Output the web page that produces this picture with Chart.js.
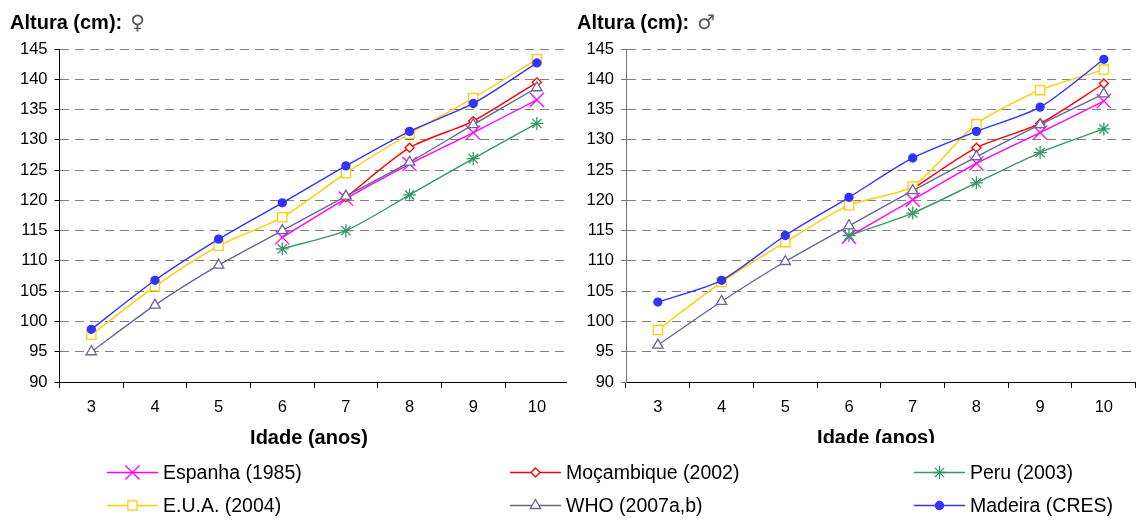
<!DOCTYPE html>
<html>
<head>
<meta charset="utf-8">
<script src="https://cdn.jsdelivr.net/npm/chart.js@4/dist/chart.umd.min.js"></script>
<style>
  body { margin: 0; background: #fff; font-family: "Liberation Sans", Arial, sans-serif; }
  #wrap { position: relative; width: 1141px; height: 520px; overflow: hidden; background: #fff; }
  canvas.chart { position: absolute; top: 0; }
  .ttl { position: absolute; top: 10px; font-size: 20px; font-weight: bold; color: #000; white-space: nowrap; }
  .ttl span { font-weight: normal; color: #555; margin-left: 8px; font-family: "DejaVu Sans", sans-serif; }
  .xt { position: absolute; top: 425px; width: 200px; margin-left: -100px; text-align: center; font-size: 20px; line-height: 24px; font-weight: bold; color: #000; }
  #legend { position: absolute; left: 0; top: 443px; width: 1141px; height: 77px; }
  #legendBg { position: absolute; left: 570px; top: 443px; width: 571px; height: 77px; background: #fff; }
  .leg { position: absolute; height: 24px; display: flex; align-items: center; font-size: 19.5px; color: #000; white-space: nowrap; }
  .leg canvas { margin-right: 4px; }
</style>
</head>
<body>
<div id="wrap">
  <canvas id="fem" class="chart" width="580" height="450" style="left:0;width:580px;height:450px"></canvas>
  <div class="xt" style="left:309px">Idade (anos)</div>
  <canvas id="masc" class="chart" width="580" height="450" style="left:567px;width:580px;height:450px"></canvas>
  <div class="xt" style="left:876px">Idade (anos)</div>
  <div class="ttl" style="left:10px">Altura (cm):<span>♀</span></div>
  <div class="ttl" style="left:577px">Altura (cm):<span>♂</span></div>
  <div id="legendBg"></div>
  <div id="legend"></div>
</div>
<script>
// idades (anos)
const idades = ['3', '4', '5', '6', '7', '8', '9', '10'];

// altura média (cm) – raparigas
const espanhaF    = [null, null, null, 113.9, 120.3, 126.0, 131.2, 136.6];
const mocambiqueF = [null, null, null, null, 120.5, 128.7, 133.1, 139.5];
const peruF       = [null, null, null, 112.0, 115.0, 120.9, 126.9, 132.7];
const euaF        = [97.8, 105.8, 112.5, 117.2, 124.5, 131.0, 136.9, 143.3];
const whoF        = [95.0, 102.7, 109.3, 115.0, 120.7, 126.3, 132.5, 138.6];
const madeiraF    = [98.7, 106.8, 113.6, 119.6, 125.7, 131.4, 136.0, 142.7];

// altura média (cm) – rapazes
const espanhaM    = [null, null, null, 114.0, 120.1, 126.1, 131.2, 136.4];
const mocambiqueM = [null, null, null, null, 121.9, 128.7, 132.7, 139.3];
const peruM       = [null, null, null, 114.2, 117.9, 122.9, 127.9, 131.8];
const euaM        = [98.6, 106.5, 113.1, 119.2, 122.3, 132.6, 138.2, 141.6];
const whoM        = [96.1, 103.3, 109.9, 115.8, 121.6, 127.2, 132.5, 137.6];
const madeiraM    = [103.2, 106.8, 114.2, 120.5, 127.0, 131.4, 135.4, 143.3];

const yMin = 90, yMax = 145, yStep = 5;

const series = [
  { label: 'Espanha (1985)',    color: '#ff00ff', style: 'crossRot', r: 10,  fill: '#ff00ff' },
  { label: 'Moçambique (2002)', color: '#ff0000', style: 'rectRot',  r: 4.5, fill: '#ffffff' },
  { label: 'Peru (2003)',       color: '#339966', style: 'star',     r: 6.5, fill: '#339966' },
  { label: 'E.U.A. (2004)',     color: '#ffcc00', style: 'rect',     r: 6.5, fill: '#ffffff' },
  { label: 'WHO (2007a,b)',     color: '#666699', style: 'triangle', r: 6,   fill: '#ffffff' },
  { label: 'Madeira (CRES)',    color: '#3333ff', style: 'circle',   r: 4,   fill: '#3333ff' }
];

const FONT = '"Liberation Sans", Arial, sans-serif';

// white canvas so the right chart hides the tail of the left one
const whiteBg = {
  id: 'whiteBg',
  beforeDraw(chart) {
    const ctx = chart.ctx;
    ctx.save();
    ctx.fillStyle = '#fff';
    ctx.fillRect(0, 0, chart.width, chart.height);
    ctx.restore();
  }
};

function makeDatasets(values) {
  return series.map((s, i) => ({
    label: s.label,
    data: values[i],
    borderColor: s.color,
    backgroundColor: s.fill,
    borderWidth: 1.4,
    tension: 0.25,
    pointStyle: s.style,
    pointRadius: s.r,
    pointHoverRadius: s.r,
    pointBorderWidth: 1.3,
    pointBorderColor: s.color,
    pointBackgroundColor: s.fill
  })).reverse(); // first series ends up on top
}

function makeChart(id, values, axisW, padRight, axisColor) {
  return new Chart(document.getElementById(id), {
    type: 'line',
    data: { labels: idades, datasets: makeDatasets(values) },
    plugins: [whiteBg],
    options: {
      responsive: false,
      animation: false,
      events: [],
      layout: { padding: { top: 49, right: padRight, left: 0, bottom: 0 } },
      plugins: { legend: { display: false }, tooltip: { enabled: false } },
      scales: {
        x: {
          offset: true,
          grid: { display: true, offset: true, drawOnChartArea: false, drawTicks: true, tickLength: 6, color: '#000', tickColor: '#000' },
          border: { display: true, color: '#000', width: 1 },
          ticks: { color: '#000', padding: 10, font: { family: FONT, size: 16.5 }, maxRotation: 0 },
          afterFit: s => { s.height = 68; }
        },
        y: {
          min: yMin, max: yMax,
          grid: { color: '#808080', lineWidth: 1, tickLength: 5, tickColor: axisColor, tickBorderDash: [] },
          border: { display: true, color: axisColor, width: 1, dash: [9, 6] },
          ticks: { stepSize: yStep, color: '#000', padding: 7, font: { family: FONT, size: 16.5 } },
          afterFit: s => { s.width = axisW; }
        }
      }
    }
  });
}

makeChart('fem', [espanhaF, mocambiqueF, peruF, euaF, whoF, madeiraF], 59.5, 0.5, '#000');
makeChart('masc', [espanhaM, mocambiqueM, peruM, euaM, whoM, madeiraM], 59, 3, '#777');

// legend: line with marker, three columns by two rows
function drawMarker(ctx, s, x, y) {
  const r = s.r;
  ctx.strokeStyle = s.color;
  ctx.fillStyle = s.fill;
  ctx.lineWidth = 1.3;
  ctx.beginPath();
  if (s.style === 'crossRot') {
    const d = r * Math.SQRT1_2;
    ctx.moveTo(x - d, y - d); ctx.lineTo(x + d, y + d);
    ctx.moveTo(x - d, y + d); ctx.lineTo(x + d, y - d);
    ctx.stroke();
  } else if (s.style === 'star') {
    const d = r * Math.SQRT1_2;
    ctx.moveTo(x, y - r); ctx.lineTo(x, y + r);
    ctx.moveTo(x - r, y); ctx.lineTo(x + r, y);
    ctx.moveTo(x - d, y - d); ctx.lineTo(x + d, y + d);
    ctx.moveTo(x - d, y + d); ctx.lineTo(x + d, y - d);
    ctx.stroke();
  } else if (s.style === 'rectRot') {
    ctx.moveTo(x, y - r); ctx.lineTo(x + r, y); ctx.lineTo(x, y + r); ctx.lineTo(x - r, y); ctx.closePath();
    ctx.fill(); ctx.stroke();
  } else if (s.style === 'rect') {
    const h = r * Math.SQRT1_2;
    ctx.rect(x - h, y - h, 2 * h, 2 * h);
    ctx.fill(); ctx.stroke();
  } else if (s.style === 'triangle') {
    ctx.moveTo(x, y - r); ctx.lineTo(x + r * 0.866, y + r * 0.5); ctx.lineTo(x - r * 0.866, y + r * 0.5); ctx.closePath();
    ctx.fill(); ctx.stroke();
  } else {
    ctx.arc(x, y, r, 0, Math.PI * 2);
    ctx.fill(); ctx.stroke();
  }
}

const legCols = [107, 510, 914];
const legRows = [17, 50];
const legend = document.getElementById('legend');
series.forEach((s, i) => {
  const div = document.createElement('div');
  div.className = 'leg';
  div.style.left = legCols[i % 3] + 'px';
  div.style.top = legRows[Math.floor(i / 3)] + 'px';
  const c = document.createElement('canvas');
  c.width = 52; c.height = 24;
  const ctx = c.getContext('2d');
  ctx.strokeStyle = s.color;
  ctx.lineWidth = 1.4;
  ctx.beginPath(); ctx.moveTo(0, 12.5); ctx.lineTo(51, 12.5); ctx.stroke();
  drawMarker(ctx, s, 25.5, 12.5);
  div.appendChild(c);
  div.appendChild(document.createTextNode(s.label));
  legend.appendChild(div);
});
</script>
</body>
</html>
